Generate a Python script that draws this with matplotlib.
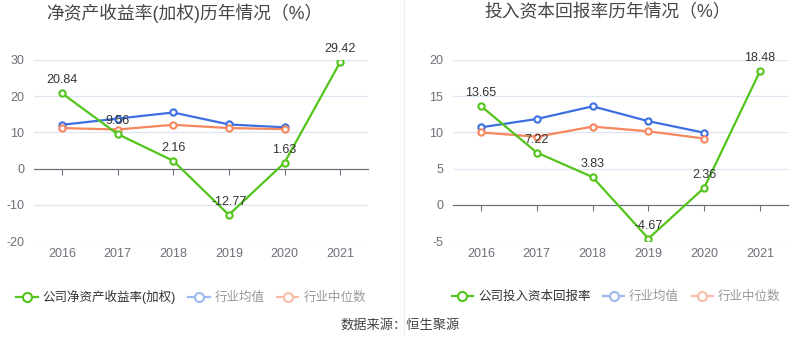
import matplotlib
matplotlib.use("Agg")
import matplotlib.pyplot as plt
from matplotlib.lines import Line2D
from matplotlib.transforms import blended_transform_factory

plt.rcParams["font.family"] = ["Liberation Sans", "Noto Sans CJK SC", "DejaVu Sans"]
plt.rcParams["axes.unicode_minus"] = False

# ── Data ──────────────────────────────────────────────────────────────────────
years = ["2016", "2017", "2018", "2019", "2020", "2021"]

roe_company = [20.84, 9.56, 2.16, -12.77, 1.63, 29.42]
roe_ind_mean = [12.1, 13.8, 15.5, 12.2, 11.4]
roe_ind_median = [11.2, 10.8, 12.1, 11.2, 10.9]

roic_company = [13.65, 7.22, 3.83, -4.67, 2.36, 18.48]
roic_ind_mean = [10.7, 11.85, 13.6, 11.55, 9.95]
roic_ind_median = [10.0, 9.4, 10.8, 10.15, 9.15]

roe_yticks = [-20, -10, 0, 10, 20, 30]
roic_yticks = [-5, 0, 5, 10, 15, 20]

# ── Colours ───────────────────────────────────────────────────────────────────
GREEN = "#52c41a"
BLUE = "#3d6fe0"
ORANGE = "#f5865d"
BLUE_FADED = "#9db7f1"
ORANGE_FADED = "#f9bda6"
GRID = "#e0e6f1"
AXIS = "#6e7079"
TEXT = "#333333"
TICK_TEXT = "#6e7079"

fig = plt.figure(figsize=(8, 3.58), dpi=100)
W, H = 800, 358


def add_axes_px(x0, x1, ytop, ybot):
    return fig.add_axes([x0 / W, 1 - ybot / H, (x1 - x0) / W, (ybot - ytop) / H])


def draw_panel(ax, company, ind_mean, ind_median, yticks):
    n = len(years)
    xs = list(range(n))
    ax.set_xlim(-0.5, n - 0.5)
    ax.set_ylim(yticks[0], yticks[-1])
    ax.set_yticks(yticks)
    ax.set_yticklabels([str(t) for t in yticks])
    for t in yticks:
        if t != 0:
            ax.axhline(t, color=GRID, lw=0.9, zorder=0)
    for s in ["top", "right", "left"]:
        ax.spines[s].set_visible(False)
    ax.spines["bottom"].set_position(("data", 0))
    ax.spines["bottom"].set_color(AXIS)
    ax.spines["bottom"].set_linewidth(0.9)
    ax.set_xticks(xs)
    ax.tick_params(axis="x", direction="out", length=4, color=AXIS, labelbottom=False)
    ax.tick_params(axis="y", length=0, labelsize=9, labelcolor=TICK_TEXT, pad=7)

    tr = blended_transform_factory(ax.transData, ax.transAxes)
    for i, yr in enumerate(years):
        ax.text(i, -0.072, yr, transform=tr, ha="center", va="center",
                fontsize=9, color=TICK_TEXT)

    mk = dict(marker="o", markersize=4.5, markerfacecolor="white", markeredgewidth=1.5)
    ax.plot(xs[:len(ind_mean)], ind_mean, color=BLUE, lw=1.6, zorder=3,
            markeredgecolor=BLUE, **mk)
    ax.plot(xs[:len(ind_median)], ind_median, color=ORANGE, lw=1.6, zorder=3,
            markeredgecolor=ORANGE, **mk)
    ax.plot(xs, company, color=GREEN, lw=1.6, zorder=4,
            markeredgecolor=GREEN, **mk)
    for i, v in enumerate(company):
        ax.annotate(f"{v:.2f}", (i, v), xytext=(0, 5), textcoords="offset points",
                    ha="center", va="bottom", fontsize=9, color=TEXT, zorder=6)


ax1 = add_axes_px(34, 368, 60, 241)
draw_panel(ax1, roe_company, roe_ind_mean, roe_ind_median, roe_yticks)
ax2 = add_axes_px(453, 788, 60, 241)
draw_panel(ax2, roic_company, roic_ind_mean, roic_ind_median, roic_yticks)

# titles
fig.text(184 / W, 1 - 13 / H, "净资产收益率(加权)历年情况（%）", ha="center", va="center",
         fontsize=12.8, color="#464646")
fig.text(608 / W, 1 - 13 / H, "投入资本回报率历年情况（%）", ha="center", va="center",
         fontsize=12.8, color="#464646")

# divider
fig.add_artist(Line2D([404 / W, 404 / W], [1 - 335 / H, 1.0], color="#eeeeee", lw=0.8))


def legend_handle(color):
    return Line2D([0], [0], color=color, lw=1.6, marker="o", markersize=6.5,
                  markerfacecolor="white", markeredgecolor=color, markeredgewidth=1.5)


def add_legend(cx, label):
    leg = fig.legend(
        handles=[legend_handle(GREEN), legend_handle(BLUE_FADED), legend_handle(ORANGE_FADED)],
        labels=[label, "行业均值", "行业中位数"],
        loc="center", bbox_to_anchor=(cx / W, 1 - 297 / H), ncol=3, frameon=False,
        fontsize=9, handlelength=1.7, handletextpad=0.4, columnspacing=1.0,
    )
    for t, c in zip(leg.get_texts(), [TEXT, "#999999", "#999999"]):
        t.set_color(c)


add_legend(191, "公司净资产收益率(加权)")
add_legend(616, "公司投入资本回报率")

fig.text(0.5, 1 - 325 / H, "数据来源：恒生聚源", ha="center", va="center",
         fontsize=9.5, color="#444444")

fig.savefig("out.png", dpi=100)
